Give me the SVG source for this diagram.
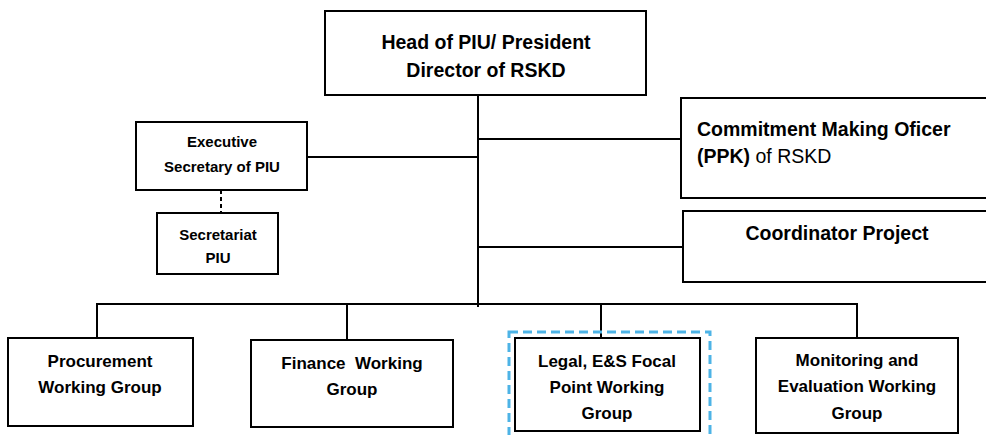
<svg xmlns="http://www.w3.org/2000/svg" width="986" height="435" viewBox="0 0 986 435">
<style>
.box{fill:#fff;stroke:#000;stroke-width:2}
.ln{stroke:#000;stroke-width:2;fill:none}
text{font-family:"Liberation Sans",Arial,sans-serif;font-weight:bold;fill:#000;text-anchor:middle}
.t19{font-size:19.5px}
.t17{font-size:17px}
.t15{font-size:15px}
.reg{font-weight:normal}
</style>
<rect width="986" height="435" fill="#fff"/>
<g id="connectors">
<line class="ln" x1="478" y1="95" x2="478" y2="307"/>
<line class="ln" x1="307" y1="157" x2="478" y2="157"/>
<line class="ln" x1="478" y1="139" x2="681" y2="139"/>
<line class="ln" x1="478" y1="247" x2="683" y2="247"/>
<line class="ln" x1="221" y1="190" x2="221" y2="213" stroke-dasharray="4,3"/>
<polyline class="ln" points="97,338 97,304 857,304 857,338"/>
<line class="ln" x1="347" y1="304" x2="347" y2="340"/>
<line class="ln" x1="601" y1="304" x2="601" y2="338"/>
</g>
<g id="head">
<rect class="box" x="325" y="11" width="321" height="84"/>
<text class="t19" x="486" y="49">Head of PIU/ President</text>
<text class="t19" x="486" y="77">Director of RSKD</text>
</g>
<g id="exec">
<rect class="box" x="136" y="122" width="171" height="68"/>
<text class="t15" x="222" y="147">Executive</text>
<text class="t15" x="222" y="172">Secretary of PIU</text>
</g>
<g id="secretariat">
<rect class="box" x="157" y="213" width="121" height="61"/>
<text class="t15" x="218" y="240">Secretariat</text>
<text class="t15" x="218" y="263">PIU</text>
</g>
<g id="ppk">
<rect class="box" x="681" y="98" width="312" height="100"/>
<text class="t19" x="697" y="136" style="text-anchor:start">Commitment Making Oficer</text>
<text class="t19" x="697" y="163" style="text-anchor:start">(PPK)<tspan class="reg"> of RSKD</tspan></text>
</g>
<g id="coordinator">
<rect class="box" x="683" y="211" width="310" height="71"/>
<text class="t19" x="837" y="240">Coordinator Project</text>
</g>
<g id="procurement">
<rect class="box" x="8" y="338" width="185" height="88"/>
<text class="t17" x="100" y="367">Procurement</text>
<text class="t17" x="100" y="393">Working Group</text>
</g>
<g id="finance">
<rect class="box" x="251" y="340" width="202" height="87"/>
<text class="t17" x="352" y="369" xml:space="preserve">Finance  Working</text>
<text class="t17" x="352" y="395">Group</text>
</g>
<g id="legal">
<rect x="509" y="332" width="201" height="110" fill="none" stroke="#4DB3E6" stroke-width="3" stroke-dasharray="9,5"/>
<rect class="box" x="515" y="338" width="185" height="93"/>
<text class="t17" x="607" y="367">Legal, E&amp;S Focal</text>
<text class="t17" x="607" y="393">Point Working</text>
<text class="t17" x="607" y="419">Group</text>
</g>
<g id="monitoring">
<rect class="box" x="756" y="338" width="202" height="95"/>
<text class="t17" x="857" y="366">Monitoring and</text>
<text class="t17" x="857" y="392">Evaluation Working</text>
<text class="t17" x="857" y="419">Group</text>
</g>
</svg>
